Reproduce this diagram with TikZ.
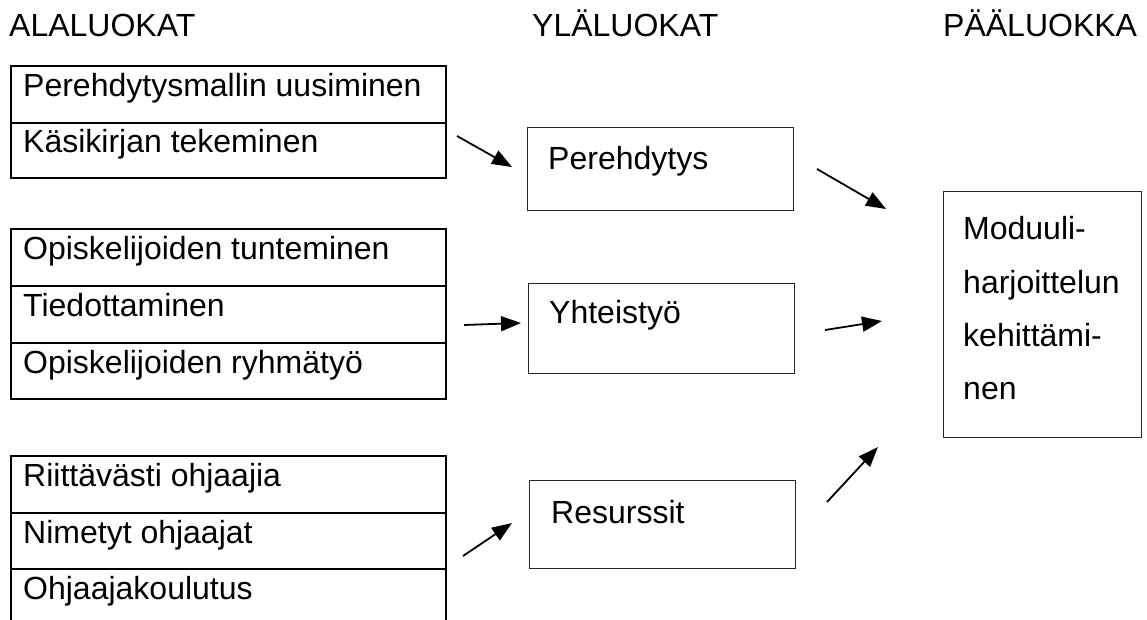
\documentclass[tikz,border=0pt]{standalone}
\usepackage{fontspec}
\setmainfont{Liberation Sans}
\usetikzlibrary{arrows.meta}
\begin{document}
\begin{tikzpicture}[x=1pt,y=-1pt,
  txt/.style={anchor=base west, inner sep=0pt, font=\fontsize{32pt}{38pt}\selectfont},
  cell/.style={draw, line width=1.8pt, rectangle, inner sep=0pt, anchor=north west, minimum width=435pt},
  midbox/.style={draw, line width=1.3pt, draw=black!85, rectangle, inner sep=0pt, anchor=north west, minimum width=266pt},
  conn/.style={line width=1.8pt, -{Triangle[length=20pt,width=15pt]}}]
\useasboundingbox (0,0) rectangle (1147,620);
\clip (0,0) rectangle (1147,620);
\fill[white] (0,0) rectangle (1147,620);

% headers
\node[txt] (h1) at (9,37) {ALALUOKAT};
\node[txt] (h2) at (532,37) {YLÄLUOKAT};
\node[txt] (h3) at (943,37) {PÄÄLUOKKA};

% left group 1
\node[cell, minimum height=57pt] (c11) at (10,65) {};
\node[cell, minimum height=55pt] (c12) at (10,122) {};
\node[txt] (t11) at (23,97) {Perehdytysmallin uusiminen};
\node[txt] (t12) at (23,153) {Käsikirjan tekeminen};

% left group 2
\node[cell, minimum height=57pt] (c21) at (10,228) {};
\node[cell, minimum height=57pt] (c22) at (10,285) {};
\node[cell, minimum height=56pt] (c23) at (10,342) {};
\node[txt] (t21) at (23,259) {Opiskelijoiden tunteminen};
\node[txt] (t22) at (23,316) {Tiedottaminen};
\node[txt] (t23) at (23,373) {Opiskelijoiden ryhmätyö};

% left group 3 (runs off the bottom)
\node[cell, minimum height=57pt] (c31) at (10,455) {};
\node[cell, minimum height=56pt] (c32) at (10,512) {};
\node[cell, minimum height=70pt] (c33) at (10,568) {};
\node[txt] (t31) at (23,486) {Riittävästi ohjaajia};
\node[txt] (t32) at (23,543) {Nimetyt ohjaajat};
\node[txt] (t33) at (23,599) {Ohjaajakoulutus};

% middle boxes
\node[midbox, minimum height=83pt] (m1) at (527,127) {};
\node[txt] (tm1) at (548,170) {Perehdytys};
\node[midbox, minimum height=90pt] (m2) at (528,283) {};
\node[txt] (tm2) at (549,323) {Yhteistyö};
\node[midbox, minimum height=88pt] (m3) at (529,480) {};
\node[txt] (tm3) at (551,523) {Resurssit};

% main box
\node[draw, line width=1.3pt, draw=black!85, rectangle, inner sep=0pt, anchor=north west,
      minimum width=198pt, minimum height=246pt] (main) at (943,191) {};
\node[txt] (tp1) at (963,240) {Moduuli-};
\node[txt] (tp2) at (963,293) {harjoittelun};
\node[txt] (tp3) at (963,346) {kehittämi-};
\node[txt] (tp4) at (963,399) {nen};

% arrow end points
\coordinate (a1s) at (457,136); \coordinate (a1e) at (512,167);
\coordinate (a2s) at (817,169); \coordinate (a2e) at (886,209);
\coordinate (a3s) at (464,325); \coordinate (a3e) at (521,323);
\coordinate (a4s) at (825,330); \coordinate (a4e) at (882,321);
\coordinate (a5s) at (827,502); \coordinate (a5e) at (878,447);
\coordinate (a6s) at (463,556); \coordinate (a6e) at (512,523);

\draw[conn] (a1s) -- (a1e);
\draw[conn] (a2s) -- (a2e);
\draw[conn] (a3s) -- (a3e);
\draw[conn] (a4s) -- (a4e);
\draw[conn] (a5s) -- (a5e);
\draw[conn] (a6s) -- (a6e);
\end{tikzpicture}
\end{document}
